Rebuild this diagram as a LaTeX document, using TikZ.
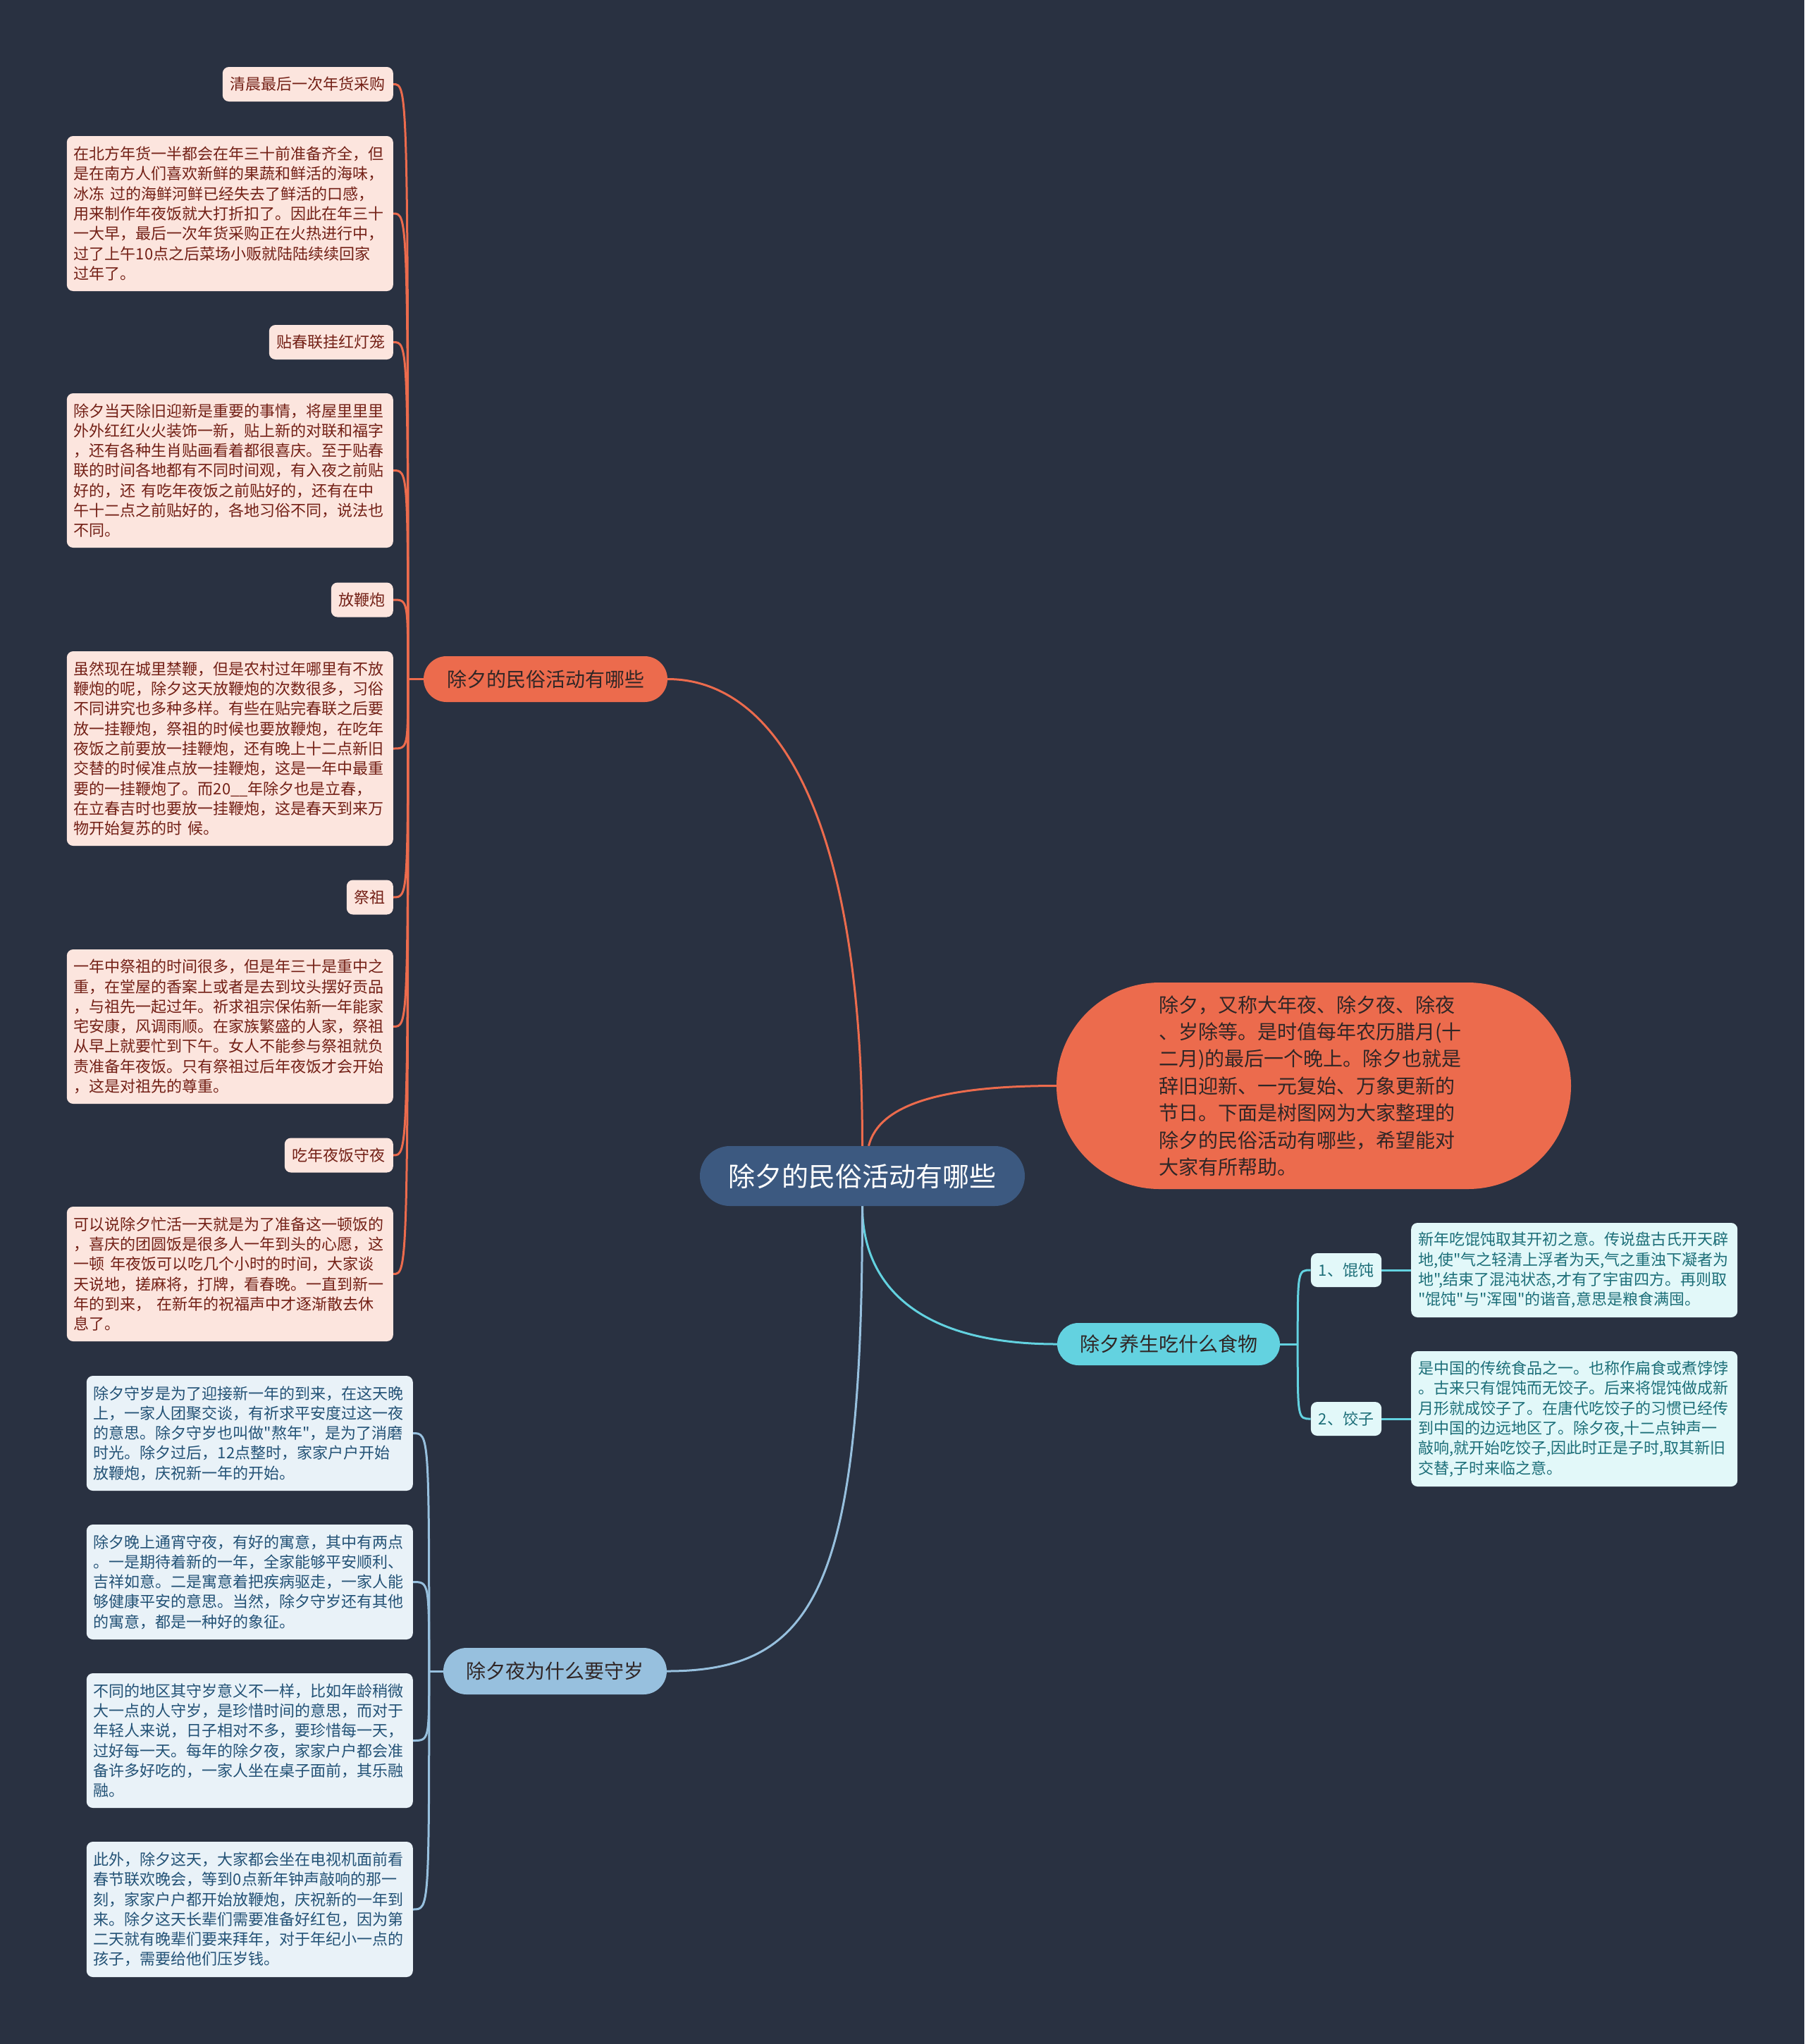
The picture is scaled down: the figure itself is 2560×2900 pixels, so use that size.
\documentclass[tikz,border=0pt]{standalone}
\usepackage{fontspec}
\newfontfamily\cjk{Noto Sans CJK SC}
\usetikzlibrary{positioning, shapes.misc, backgrounds}
\definecolor{bgnavy}{RGB}{41,49,65}
\definecolor{rootblue}{RGB}{60,89,128}
\definecolor{folkorange}{RGB}{236,107,77}
\definecolor{folkleaf}{RGB}{252,229,222}
\definecolor{folktext}{RGB}{115,32,22}
\definecolor{foodcyan}{RGB}{99,210,224}
\definecolor{foodleaf}{RGB}{226,248,249}
\definecolor{foodtext}{RGB}{28,110,120}
\definecolor{evesky}{RGB}{151,192,222}
\definecolor{eveleaf}{RGB}{233,242,248}
\definecolor{evetext}{RGB}{35,82,118}
\definecolor{darktext}{RGB}{48,38,38}
\newcommand{\leaffont}{\cjk\fontsize{22pt}{28.3pt}\selectfont}
\newcommand{\topicfont}{\cjk\fontsize{28pt}{38.4pt}\selectfont}
\newcommand{\rootfont}{\cjk\fontsize{38pt}{46pt}\selectfont}

\begin{document}
\begin{tikzpicture}[
    x=1pt, y=-1pt,
    rootnode/.style={rounded rectangle, fill=rootblue, text=white, font=\rootfont,
                     minimum width=465pt, minimum height=85pt, inner xsep=2pt},
    topicnode/.style={rounded rectangle, text=darktext, font=\topicfont, inner xsep=2pt},
    tagbox/.style={rectangle, rounded corners=9pt, font=\leaffont, minimum height=49pt,
                   inner xsep=11pt},
    notebox/.style={tagbox, text width=443pt, inner xsep=10pt, align=left},
    folkbox/.style={fill=folkleaf, text=folktext},
    foodbox/.style={fill=foodleaf, text=foodtext},
    evebox/.style={fill=eveleaf, text=evetext},
    link/.style={line width=3pt}
]
    \useasboundingbox (0,0) rectangle (2560,2900);

    \node[rootnode] (root) at (1223.5,1668.5) {除夕的民俗活动有哪些};
    \node[topicnode, fill=folkorange, minimum width=350pt, minimum height=65pt] (folk) at (774,963.5) {除夕的民俗活动有哪些};
    \node[topicnode, fill=folkorange, minimum width=734pt, minimum height=293pt, text width=440pt, align=left] (intro) at (1864,1540.5)
        {除夕，又称大年夜、除夕夜、除夜\\、岁除等。是时值每年农历腊月(十\\二月)的最后一个晚上。除夕也就是\\辞旧迎新、一元复始、万象更新的\\节日。下面是树图网为大家整理的\\除夕的民俗活动有哪些，希望能对\\大家有所帮助。};
    \node[topicnode, fill=foodcyan, minimum width=320pt, minimum height=60pt] (food) at (1658,1907) {除夕养生吃什么食物};
    \node[topicnode, fill=evesky, minimum width=321pt, minimum height=66pt] (eve) at (787.5,2371) {除夕夜为什么要守岁};

    \node[tagbox, folkbox, anchor=east] (buy) at (558,119.5) {清晨最后一次年货采购};
    \node[notebox, folkbox, anchor=east, minimum height=220pt] (buytxt) at (558,303)
        {在北方年货一半都会在年三十前准备齐全，但\\是在南方人们喜欢新鲜的果蔬和鲜活的海味，\\冰冻 过的海鲜河鲜已经失去了鲜活的口感，\\用来制作年夜饭就大打折扣了。因此在年三十\\一大早，最后一次年货采购正在火热进行中，\\过了上午10点之后菜场小贩就陆陆续续回家\\过年了。};
    \node[tagbox, folkbox, anchor=east] (couplet) at (558,485.5) {贴春联挂红灯笼};
    \node[notebox, folkbox, anchor=east, minimum height=219pt] (couplettxt) at (558,667.5)
        {除夕当天除旧迎新是重要的事情，将屋里里里\\外外红红火火装饰一新，贴上新的对联和福字\\，还有各种生肖贴画看着都很喜庆。至于贴春\\联的时间各地都有不同时间观，有入夜之前贴\\好的，还 有吃年夜饭之前贴好的，还有在中\\午十二点之前贴好的，各地习俗不同，说法也\\不同。};
    \node[tagbox, folkbox, anchor=east] (cracker) at (558,851) {放鞭炮};
    \node[notebox, folkbox, anchor=east, minimum height=276pt] (crackertxt) at (558,1062)
        {虽然现在城里禁鞭，但是农村过年哪里有不放\\鞭炮的呢，除夕这天放鞭炮的次数很多，习俗\\不同讲究也多种多样。有些在贴完春联之后要\\放一挂鞭炮，祭祖的时候也要放鞭炮，在吃年\\夜饭之前要放一挂鞭炮，还有晚上十二点新旧\\交替的时候准点放一挂鞭炮，这是一年中最重\\要的一挂鞭炮了。而20\_\_年除夕也是立春，\\在立春吉时也要放一挂鞭炮，这是春天到来万\\物开始复苏的时 候。};
    \node[tagbox, folkbox, anchor=east] (rite) at (558,1273) {祭祖};
    \node[notebox, folkbox, anchor=east, minimum height=219pt] (ritetxt) at (558,1456.5)
        {一年中祭祖的时间很多，但是年三十是重中之\\重，在堂屋的香案上或者是去到坟头摆好贡品\\，与祖先一起过年。祈求祖宗保佑新一年能家\\宅安康，风调雨顺。在家族繁盛的人家，祭祖\\从早上就要忙到下午。女人不能参与祭祖就负\\责准备年夜饭。只有祭祖过后年夜饭才会开始\\，这是对祖先的尊重。};
    \node[tagbox, folkbox, anchor=east] (dinner) at (558,1639) {吃年夜饭守夜};
    \node[notebox, folkbox, anchor=east, minimum height=191pt] (dinnertxt) at (558,1807.5)
        {可以说除夕忙活一天就是为了准备这一顿饭的\\，喜庆的团圆饭是很多人一年到头的心愿，这\\一顿 年夜饭可以吃几个小时的时间，大家谈\\天说地，搓麻将，打牌，看春晚。一直到新一\\年的到来， 在新年的祝福声中才逐渐散去休\\息了。};

    \node[tagbox, foodbox, minimum height=48pt] (wonton) at (1910,1802) {1、馄饨};
    \node[notebox, foodbox, anchor=west, minimum height=134pt] (wontontxt) at (2002,1802)
        {新年吃馄饨取其开初之意。传说盘古氏开天辟\\地,使"气之轻清上浮者为天,气之重浊下凝者为\\地",结束了混沌状态,才有了宇宙四方。再则取\\"馄饨"与"浑囤"的谐音,意思是粮食满囤。};
    \node[tagbox, foodbox, minimum height=48pt] (dumpling) at (1910,2013) {2、饺子};
    \node[notebox, foodbox, anchor=west, minimum height=192pt] (dumplingtxt) at (2002,2013)
        {是中国的传统食品之一。也称作扁食或煮饽饽\\。古来只有馄饨而无饺子。后来将馄饨做成新\\月形就成饺子了。在唐代吃饺子的习惯已经传\\到中国的边远地区了。除夕夜,十二点钟声一\\敲响,就开始吃饺子,因此时正是子时,取其新旧\\交替,子时来临之意。};

    \node[notebox, evebox, anchor=east, minimum height=163pt] (vigila) at (586,2033.5)
        {除夕守岁是为了迎接新一年的到来，在这天晚\\上，一家人团聚交谈，有祈求平安度过这一夜\\的意思。除夕守岁也叫做"熬年"，是为了消磨\\时光。除夕过后，12点整时，家家户户开始\\放鞭炮，庆祝新一年的开始。};
    \node[notebox, evebox, anchor=east, minimum height=163pt] (vigilb) at (586,2244.5)
        {除夕晚上通宵守夜，有好的寓意，其中有两点\\。一是期待着新的一年，全家能够平安顺利、\\吉祥如意。二是寓意着把疾病驱走，一家人能\\够健康平安的意思。当然，除夕守岁还有其他\\的寓意，都是一种好的象征。};
    \node[notebox, evebox, anchor=east, minimum height=191pt] (vigilc) at (586,2469.5)
        {不同的地区其守岁意义不一样，比如年龄稍微\\大一点的人守岁，是珍惜时间的意思，而对于\\年轻人来说，日子相对不多，要珍惜每一天，\\过好每一天。每年的除夕夜，家家户户都会准\\备许多好吃的，一家人坐在桌子面前，其乐融\\融。};
    \node[notebox, evebox, anchor=east, minimum height=192pt] (vigild) at (586,2709)
        {此外，除夕这天，大家都会坐在电视机面前看\\春节联欢晚会，等到0点新年钟声敲响的那一\\刻，家家户户都开始放鞭炮，庆祝新的一年到\\来。除夕这天长辈们需要准备好红包，因为第\\二天就有晚辈们要来拜年，对于年纪小一点的\\孩子，需要给他们压岁钱。};

    \coordinate[left=22pt of folk.west] (jfolk);
    \coordinate[right=25pt of food.east] (jfood);
    \coordinate[left=20pt of eve.west] (jeve);

    \begin{scope}[on background layer]
    \fill[bgnavy] (0,0) rectangle (2560,2900);
    \draw[link, folkorange] (root.north) .. controls +(0,-476) and +(150,0) .. (folk.east);
    \draw[link, folkorange] ([xshift=9pt]root.north) .. controls +(15,-60) and +(-160,0) .. (intro.west);
    \draw[link, foodcyan] (root.south) .. controls +(0,110) and +(-200,0) .. (food.west);
    \draw[link, evesky] (root.south) .. controls +(0,540) and +(212,0) .. (eve.east);

    \draw[link, folkorange] (folk.west) -- (jfolk);
    \draw[link, folkorange] (jfolk) .. controls (jfolk |- buy.east) .. (buy.east);
    \draw[link, folkorange] (jfolk) .. controls (jfolk |- buytxt.east) .. (buytxt.east);
    \draw[link, folkorange] (jfolk) .. controls (jfolk |- couplet.east) .. (couplet.east);
    \draw[link, folkorange] (jfolk) .. controls (jfolk |- couplettxt.east) .. (couplettxt.east);
    \draw[link, folkorange] (jfolk) .. controls (jfolk |- cracker.east) .. (cracker.east);
    \draw[link, folkorange] (jfolk) .. controls (jfolk |- crackertxt.east) .. (crackertxt.east);
    \draw[link, folkorange] (jfolk) .. controls (jfolk |- rite.east) .. (rite.east);
    \draw[link, folkorange] (jfolk) .. controls (jfolk |- ritetxt.east) .. (ritetxt.east);
    \draw[link, folkorange] (jfolk) .. controls (jfolk |- dinner.east) .. (dinner.east);
    \draw[link, folkorange] (jfolk) .. controls (jfolk |- dinnertxt.east) .. (dinnertxt.east);

    \draw[link, foodcyan] (food.east) -- (jfood);
    \draw[link, foodcyan] (jfood) .. controls (jfood |- wonton.west) .. (wonton.west);
    \draw[link, foodcyan] (jfood) .. controls (jfood |- dumpling.west) .. (dumpling.west);
    \draw[link, foodcyan] (wonton) -- (wontontxt); \draw[link, foodcyan] (dumpling) -- (dumplingtxt);

    \draw[link, evesky] (eve.west) -- (jeve);
    \draw[link, evesky] (jeve) .. controls (jeve |- vigila.east) .. (vigila.east);
    \draw[link, evesky] (jeve) .. controls (jeve |- vigilb.east) .. (vigilb.east);
    \draw[link, evesky] (jeve) .. controls (jeve |- vigilc.east) .. (vigilc.east);
    \draw[link, evesky] (jeve) .. controls (jeve |- vigild.east) .. (vigild.east);
    \end{scope}
\end{tikzpicture}
\end{document}
